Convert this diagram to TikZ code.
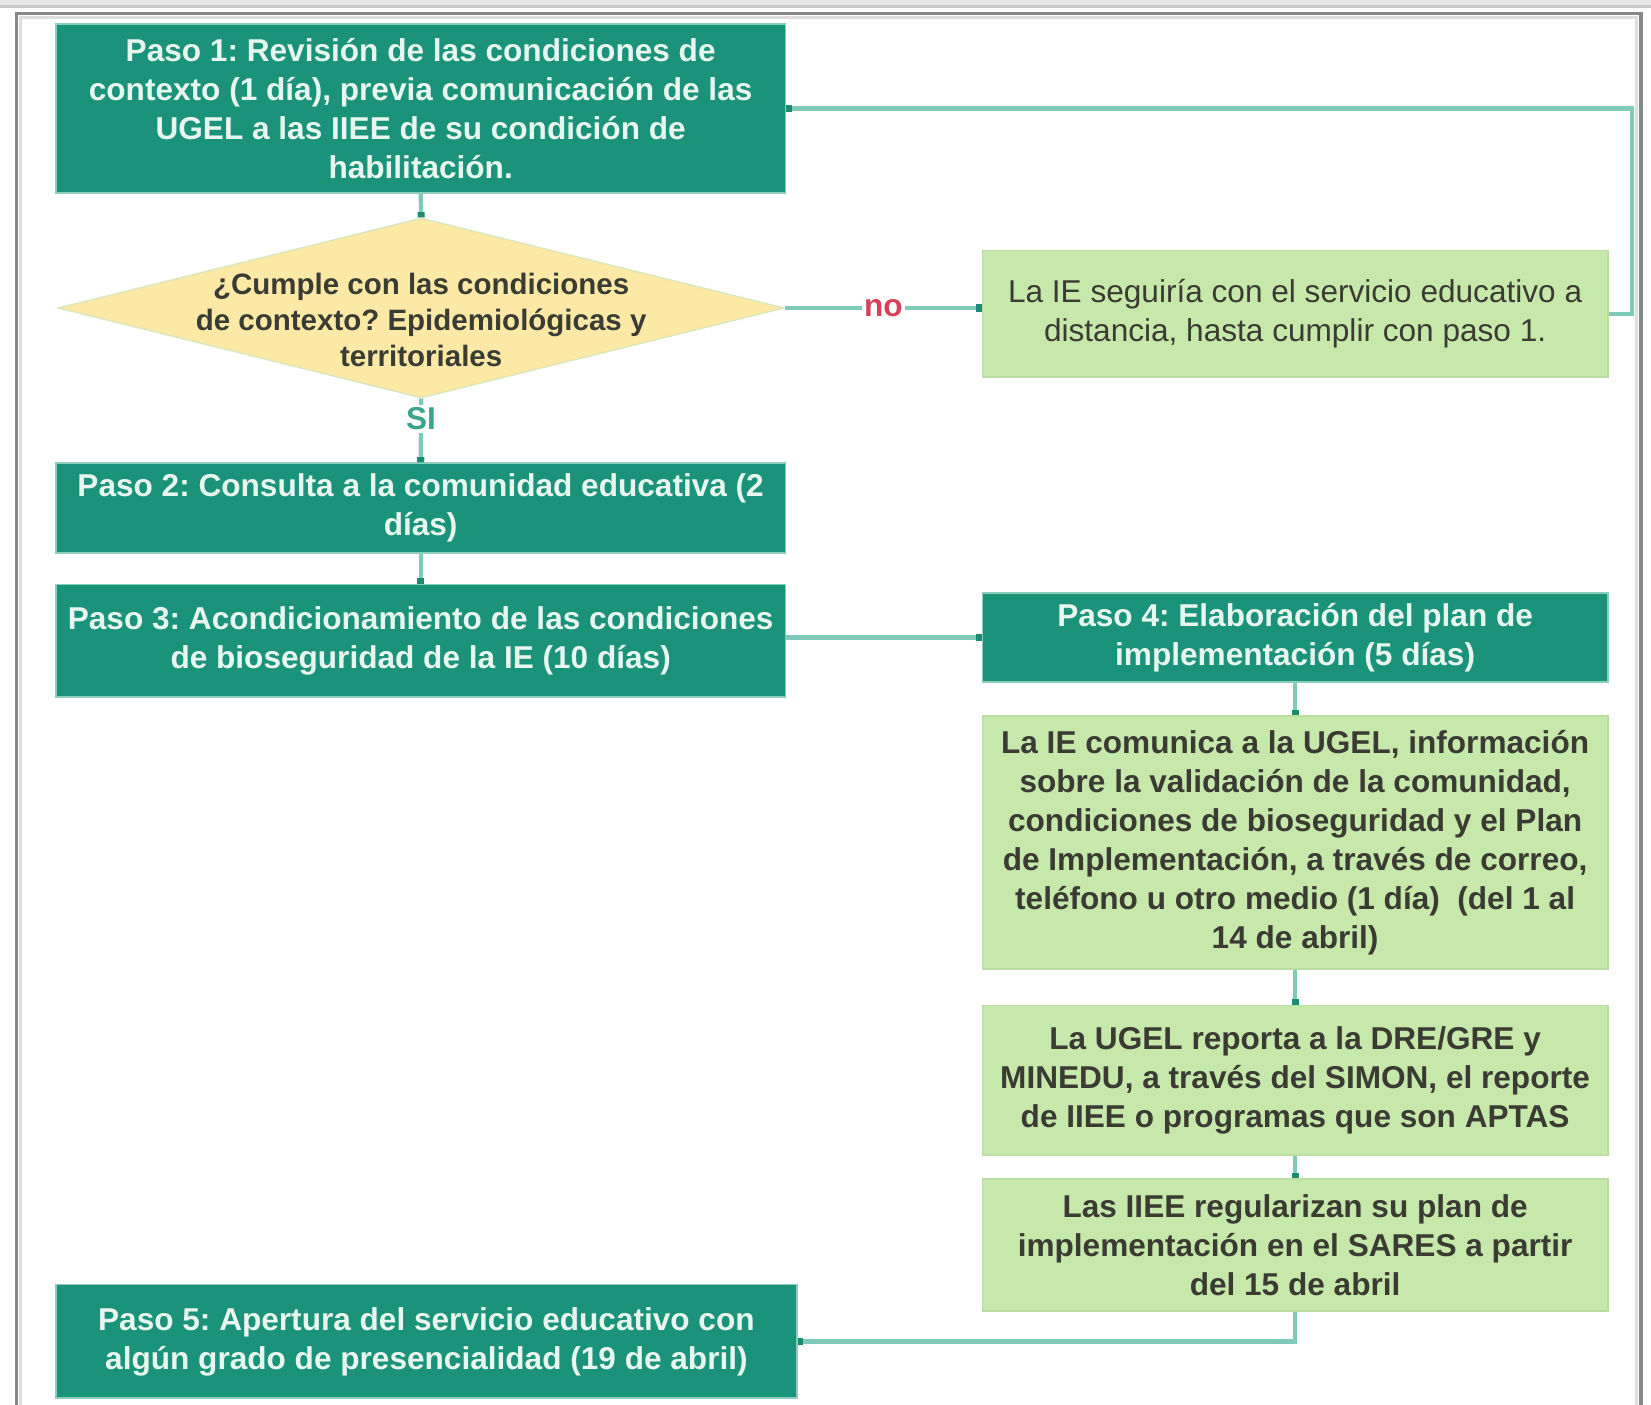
\documentclass[tikz,border=0pt]{standalone}
\usepackage{fontspec}
\setmainfont{Liberation Sans}
\usetikzlibrary{arrows.meta,shapes.geometric}
\definecolor{tealdark}{RGB}{27,147,122}
\definecolor{tealedge}{RGB}{140,206,188}
\definecolor{tealline}{RGB}{128,202,186}
\definecolor{tealtip}{RGB}{26,140,115}
\definecolor{lgreen}{RGB}{198,232,171}
\definecolor{lgreenedge}{RGB}{185,222,160}
\definecolor{ylw}{RGB}{253,233,166}
\definecolor{ylwedge}{RGB}{215,232,190}
\definecolor{txtdark}{RGB}{58,60,52}
\definecolor{txtwhite}{RGB}{232,246,240}
\definecolor{nored}{RGB}{214,64,90}
\definecolor{sigreen}{RGB}{58,165,140}
\definecolor{framedark}{RGB}{136,136,136}
\definecolor{framelight}{RGB}{222,222,222}
\tikzset{
  darkbox/.style={rectangle, fill=tealdark, draw=tealedge, line width=0.8pt,
    text=txtwhite, font=\fontsize{15}{18.5}\selectfont\bfseries, align=center, inner sep=1pt},
  greenbox/.style={rectangle, fill=lgreen, draw=lgreenedge, line width=0.8pt,
    text=txtdark, font=\fontsize{15}{18.5}\selectfont\bfseries, align=center, inner sep=1pt},
  decision/.style={diamond, fill=ylw, draw=ylwedge, line width=0.6pt, inner sep=0pt},
  conn/.style={draw=tealline, line width=2pt, -{Square[length=2.5pt,width=3.4pt,color=tealtip]}},
}
\begin{document}
\frenchspacing
\begin{tikzpicture}[x=0.5pt,y=-0.5pt]
\useasboundingbox (0,0) rectangle (1568,1334);
% window chrome
\fill[color={rgb,255:red,230;green,230;blue,230}] (0,0) rectangle (1568,5);
\fill[color={rgb,255:red,200;green,200;blue,200}] (0,5) rectangle (1568,7.5);
\draw[framelight, line width=1.5pt] (19.5,1340) -- (19.5,17) -- (1554.5,17) -- (1554.5,1340);
\draw[framedark, line width=1.5pt] (16,1340) -- (16,13) -- (1558.5,13) -- (1558.5,1340);

% nodes
\node[darkbox, minimum width=346.5pt, minimum height=80pt] (p1) at (399.5,103)
  {Paso 1: Revisión de las condiciones de\\contexto (1 día), previa comunicación de las\\UGEL a las IIEE de su condición de\\habilitación.};
\node[decision, minimum width=345pt, minimum height=85.5pt] (d) at (400,292.5) {};
\node[text=txtdark, font=\fontsize{14}{17}\selectfont\bfseries, align=center] (dt) at (400,304)
  {¿Cumple con las condiciones\\de contexto? Epidemiológicas y\\territoriales};
\node[greenbox, font=\fontsize{15}{18.5}\selectfont, minimum width=297pt, minimum height=60pt] (ie) at (1230,298)
  {La IE seguiría con el servicio educativo a\\distancia, hasta cumplir con paso 1.};
\node[darkbox, minimum width=346.5pt, minimum height=42.5pt] (p2) at (399.5,482.5)
  {Paso 2: Consulta a la comunidad educativa (2\\días)};
\node[darkbox, minimum width=346.5pt, minimum height=53.5pt] (p3) at (399.5,608.5)
  {Paso 3: Acondicionamiento de las condiciones\\de bioseguridad de la IE (10 días)};
\node[darkbox, minimum width=297pt, minimum height=42.5pt] (p4) at (1230,605.5)
  {Paso 4: Elaboración del plan de\\implementación (5 días)};
\node[greenbox, minimum width=297pt, minimum height=120pt] (c) at (1230,800)
  {La IE comunica a la UGEL, información\\sobre la validación de la comunidad,\\condiciones de bioseguridad y el Plan\\de Implementación, a través de correo,\\teléfono u otro medio (1 día)\ \ (del 1 al\\14 de abril)};
\node[greenbox, minimum width=297pt, minimum height=71pt] (dd) at (1230,1026)
  {La UGEL reporta a la DRE/GRE y\\MINEDU, a través del SIMON, el reporte\\de IIEE o programas que son APTAS};
\node[greenbox, minimum width=297pt, minimum height=62.5pt] (e) at (1230,1182.5)
  {Las IIEE regularizan su plan de\\implementación en el SARES a partir\\del 15 de abril};
\node[darkbox, minimum width=352pt, minimum height=54pt] (p5) at (405,1274)
  {Paso 5: Apertura del servicio educativo con\\algún grado de presencialidad (19 de abril)};

% connectors
\draw[conn] (p1.south) -- (d.north);
\draw[conn] (d.east) -- node[pos=0.5, fill=white, inner sep=1pt, text=nored, font=\fontsize{15}{17}\selectfont\bfseries] (no) {no} (d.east -| ie.west);
\draw[conn] (d.south) -- node[pos=0.32, fill=white, inner sep=1.5pt, text=sigreen, font=\fontsize{15}{17}\selectfont\bfseries] (si) {SI} (p2.north);
\draw[conn] (ie.east) -- ++(22,0) |- (p1.east);
\draw[conn] (p2.south) -- (p3.north);
\draw[conn] (p4.west -| p3.east) -- (p4.west);
\draw[conn] (p4.south) -- (c.north);
\draw[conn] (c.south) -- (dd.north);
\draw[conn] (dd.south) -- (e.north);
\draw[conn] (e.south) |- (p5.east);
\end{tikzpicture}
\end{document}
